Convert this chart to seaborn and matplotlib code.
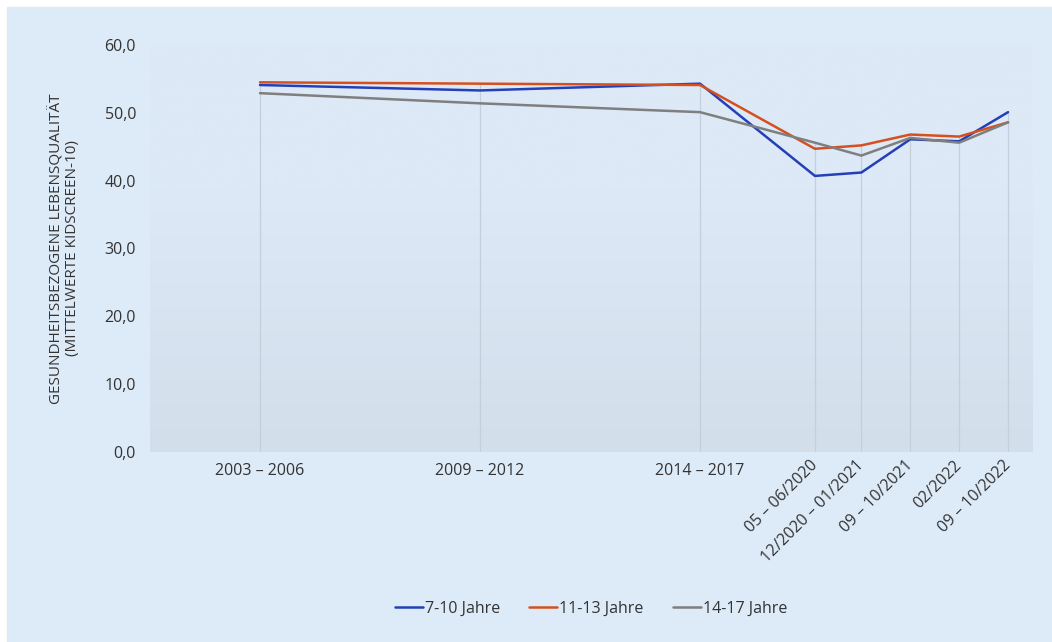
import numpy as np
import pandas as pd
import matplotlib
matplotlib.use("Agg")
import matplotlib.pyplot as plt
from matplotlib.patches import Rectangle
from matplotlib.ticker import FuncFormatter
import seaborn as sns

# Zeitpunkte (Abstaende wie im Original, nicht gleichmaessig)
zeitraum = ["2003 – 2006", "2009 – 2012", "2014 – 2017", "05 – 06/2020",
            "12/2020 – 01/2021", "09 – 10/2021", "02/2022", "09 – 10/2022"]
x_pos = [0, 4.5, 9, 11.35, 12.3, 13.3, 14.3, 15.3]

gruppen = ["7-10 Jahre", "11-13 Jahre", "14-17 Jahre"]
werte_7_10 = [54.1, 53.3, 54.3, 40.7, 41.2, 46.1, 45.8, 50.1]
werte_11_13 = [54.5, 54.3, 54.1, 44.7, 45.2, 46.8, 46.5, 48.6]
werte_14_17 = [52.9, 51.4, 50.1, 45.6, 43.7, 46.3, 45.6, 48.6]
farben = ["#2340b8", "#d6501f", "#7f7f7f"]

df = pd.DataFrame({
    "x": x_pos * 3,
    "wert": werte_7_10 + werte_11_13 + werte_14_17,
    "gruppe": [g for g in gruppen for _ in x_pos],
})

sns.set_style("white")
plt.rcParams["font.family"] = ["Open Sans", "DejaVu Sans"]

bg = "#ddeaf7"
fig = plt.figure(figsize=(10.52, 6.42), dpi=100, facecolor="white")
fig.patches.append(Rectangle((7 / 1052, 0), 1, (642 - 7) / 642,
                             transform=fig.transFigure, color=bg, zorder=-10))

ax = fig.add_axes([150 / 1052, (642 - 452) / 642, 883 / 1052, 407 / 642])
ax.set_facecolor(bg)

# leichter Verlauf im Diagrammbereich
grad = np.linspace(0, 1, 256).reshape(-1, 1)
top_c = np.array(matplotlib.colors.to_rgb("#dde9f6"))
bot_c = np.array(matplotlib.colors.to_rgb("#d2deea"))
w = np.clip((grad - 0.35) / 0.65, 0, 1)
img = top_c * (1 - w[..., None]) + bot_c * w[..., None]
ax.imshow(img, extent=[0, 1, 0, 1], transform=ax.transAxes, aspect="auto",
          origin="upper", zorder=0)

# Lotlinien bis zum hoechsten Wert
top_vals = np.max([werte_7_10, werte_11_13, werte_14_17], axis=0)
ax.vlines(x_pos, 0, top_vals, color="#c5cfd9", lw=0.9, zorder=1)

sns.lineplot(data=df, x="x", y="wert", hue="gruppe", palette=farben,
             linewidth=1.8, ax=ax, zorder=3)

ax.set_xlim(-2.25, 15.81)
ax.set_ylim(0, 60)
ax.set_yticks(range(0, 61, 10))
ax.yaxis.set_major_formatter(FuncFormatter(lambda v, p: f"{v:.1f}".replace(".", ",")))
ax.tick_params(axis="y", length=0, pad=10, labelsize=11.5, labelcolor="#333333")

ax.set_xticks(x_pos)
ax.set_xticklabels(zeitraum)
ax.tick_params(axis="x", length=0, pad=8, labelsize=11.5, labelcolor="#333333")
for i, lab in enumerate(ax.get_xticklabels()):
    if i >= 3:
        lab.set_rotation(45)
        lab.set_ha("right")
        lab.set_rotation_mode("anchor")
        lab.set_va("center")

for s in ax.spines.values():
    s.set_visible(False)

ax.set_xlabel("")
ax.set_ylabel("GESUNDHEITSBEZOGENE LEBENSQUALITÄT\n(MITTELWERTE KIDSCREEN-10)",
              fontsize=11, color="#333333", labelpad=18, linespacing=1.1)

# Legende unten, mittig unter dem Diagrammbereich
handles, labels = ax.get_legend_handles_labels()
ax.legend(handles, labels, loc="center", bbox_to_anchor=(591 / 1052, 33 / 642),
          bbox_transform=fig.transFigure, ncol=3, frameon=False,
          fontsize=11.5, handlelength=1.75, handletextpad=0.15, columnspacing=1.8,
          labelcolor="#333333")

fig.savefig("out.png", dpi=100, facecolor="white")
